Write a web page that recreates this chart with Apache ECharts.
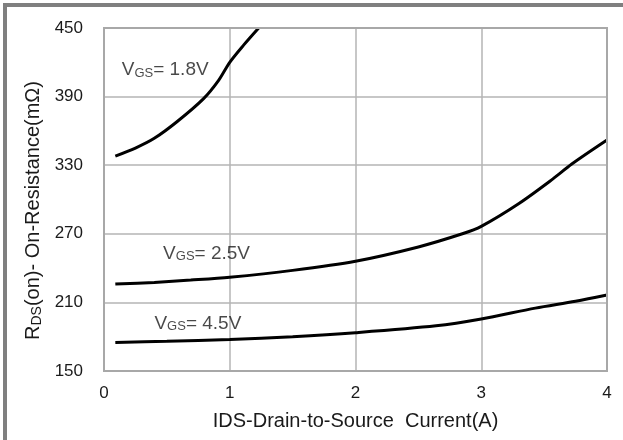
<!DOCTYPE html>
<html style="height: 100%">

<head>
    <meta charset="utf-8">
</head>

<body style="height: 100%; margin: 0; background: #fff">
    <div id="container" style="width: 623px; height: 440px"></div>
    <script type="text/javascript" src="https://cdn.jsdelivr.net/npm/echarts@6/dist/echarts.min.js"></script>
    <script type="text/javascript">
        // IDS (A) vs RDS(on) (mOhm)
        var ids18 = [0.09, 0.25, 0.4, 0.58, 0.79, 0.91, 1.0, 1.11, 1.23];
        var rds18 = [338, 345, 353.5, 368, 388, 404, 420, 435, 450];

        var ids25 = [0.09, 0.4, 0.69, 1.0, 1.5, 2.0, 2.5, 2.85, 3.0, 3.3, 3.57, 3.72, 4.0];
        var rds25 = [226, 227.5, 229.5, 232, 238, 246, 258.5, 270, 276.5, 296.5, 318, 331, 352];

        var ids45 = [0.09, 0.5, 1.0, 1.5, 2.0, 2.64, 3.0, 3.43, 3.75, 4.0];
        var rds45 = [175, 176, 177.5, 180, 183.5, 189.5, 195.5, 205, 211, 216.5];

        var curveNames = ['1.8V', '2.5V', '4.5V'];

        function pairs(xs, ys) {
            return xs.map(function (x, i) { return [x, ys[i]]; });
        }

        var dom = document.getElementById("container");
        var myChart = echarts.init(dom, null, { renderer: 'canvas' });

        var txt = '#1a1a1a';
        var font = '"Liberation Sans", Arial, sans-serif';
        var labelRich = {
            n: { fontSize: 19, color: txt, fontFamily: font, verticalAlign: 'bottom', lineHeight: 22 },
            s: { fontSize: 13, color: txt, fontFamily: font, verticalAlign: 'bottom', lineHeight: 16 }
        };
        var nameRich = {
            n: { fontSize: 20, color: txt, fontFamily: font, verticalAlign: 'bottom', lineHeight: 24 },
            s: { fontSize: 14, color: txt, fontFamily: font, verticalAlign: 'bottom', lineHeight: 17 }
        };

        function curve(name, xs, ys) {
            return {
                name: name,
                type: 'line',
                smooth: 0.3,
                showSymbol: false,
                symbol: 'none',
                lineStyle: { color: '#000', width: 3 },
                data: pairs(xs, ys),
                silent: true
            };
        }

        option = {
            backgroundColor: '#fff',
            animation: false,
            grid: { left: 104, right: 16, top: 28, bottom: 69, containLabel: false },
            graphic: [{
                type: 'rect',
                shape: { x: 5, y: 5, width: 700, height: 600 },
                style: { fill: 'none', stroke: '#7f7f7f', lineWidth: 4 },
                silent: true
            }, {
                // right/top border of the plot frame
                type: 'rect',
                shape: { x: 104, y: 28, width: 503, height: 343 },
                style: { fill: 'none', stroke: '#a8a8a8', lineWidth: 2 },
                silent: true,
                z: 100
            }],
            xAxis: {
                type: 'value',
                min: 0,
                max: 4,
                interval: 1,
                name: 'IDS-Drain-to-Source  Current(A)',
                nameLocation: 'middle',
                nameGap: 40,
                nameTextStyle: { fontSize: 20, color: txt, fontFamily: font },
                axisLine: { show: true, lineStyle: { color: '#a8a8a8', width: 2 } },
                axisTick: { show: false },
                axisLabel: { fontSize: 17, color: txt, fontFamily: font, margin: 14 },
                splitLine: { show: true, lineStyle: { color: '#b4b4b4', width: 1.5 } }
            },
            yAxis: {
                type: 'value',
                min: 150,
                max: 450,
                interval: 60,
                name: '{n|R}{s|DS}{n|(on)- On-Resistance(mΩ)}',
                nameLocation: 'middle',
                nameRotate: 90,
                nameGap: 60,
                nameTextStyle: { rich: nameRich, padding: [0, 22, 0, 0] },
                axisLine: { show: true, lineStyle: { color: '#a8a8a8', width: 2 } },
                axisTick: { show: false },
                axisLabel: { fontSize: 17, color: txt, fontFamily: font, margin: 21 },
                splitLine: { show: true, lineStyle: { color: '#b4b4b4', width: 1.5 } }
            },
            series: [
                curve(curveNames[0], ids18, rds18),
                curve(curveNames[1], ids25, rds25),
                curve(curveNames[2], ids45, rds45),
                {
                    // VGS curve labels
                    type: 'scatter',
                    symbolSize: 1,
                    itemStyle: { color: 'rgba(0,0,0,0)' },
                    silent: true,
                    data: [
                        { value: [0.137, 414.6], name: curveNames[0] },
                        { value: [0.466, 254.2], name: curveNames[1] },
                        { value: [0.397, 193], name: curveNames[2] }
                    ],
                    label: {
                        show: true,
                        position: 'right',
                        distance: 0,
                        formatter: function (p) { return '{n|V}{s|GS}{n|= ' + p.name + '}'; },
                        rich: labelRich
                    }
                }
            ]
        };

        if (option && typeof option === "object") {
            myChart.setOption(option, true);
        }
    </script>
</body>

</html>
